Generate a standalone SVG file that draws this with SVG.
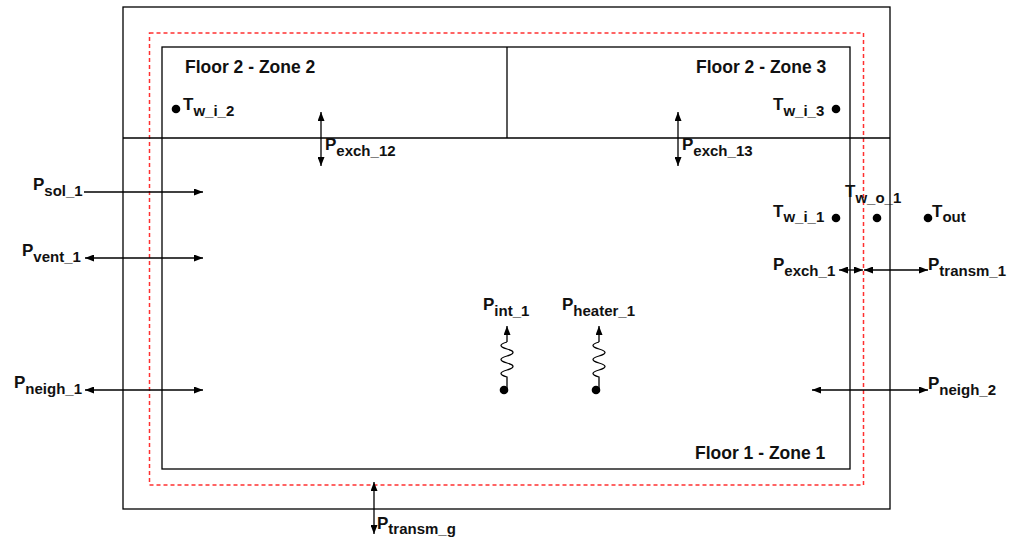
<svg xmlns="http://www.w3.org/2000/svg" width="1023" height="541" viewBox="0 0 1023 541">
<style>
.ln{stroke:#000;stroke-width:1.3;fill:none}
.red{stroke:#ff3030;stroke-width:1.5;stroke-dasharray:4 3;fill:none}
.ar{stroke:#000;stroke-width:1.3;fill:none;marker-end:url(#ah)}
.ar2{stroke:#000;stroke-width:1.3;fill:none;marker-end:url(#ah);marker-start:url(#ah)}
text{font-family:"Liberation Sans",Arial,sans-serif;font-weight:bold;fill:#111}
.m{font-size:17px}
.s{font-size:15px}
.z{font-size:17.5px}
.dot{fill:#000}
</style>
<defs>
<marker id="ah" markerUnits="userSpaceOnUse" markerWidth="9" markerHeight="7" refX="9" refY="3.5" orient="auto-start-reverse">
<path d="M0,0 L9,3.5 L0,7 z" fill="#000"/>
</marker>
</defs>
<rect width="1023" height="541" fill="#fff"/>
<g id="envelope">
<rect class="ln" x="123" y="7" width="767" height="502"/>
<rect class="red" x="149.5" y="33" width="714" height="452"/>
<line class="ln" x1="123" y1="138" x2="890" y2="138"/>
</g>
<g id="zone1">
<rect class="ln" x="162" y="47" width="688" height="422"/>
<text class="z" x="695" y="459">Floor 1 - Zone 1</text>
</g>
<g id="zone2">
<text class="z" x="185" y="73">Floor 2 - Zone 2</text>
<circle class="dot" cx="176" cy="109" r="4.3"/>
<text class="m" x="183" y="110">T<tspan class="s" dy="6">w_i_2</tspan></text>
</g>
<g id="zone3">
<line class="ln" x1="507" y1="47" x2="507" y2="138"/>
<text class="z" x="696" y="73">Floor 2 - Zone 3</text>
<circle class="dot" cx="836" cy="109" r="4.3"/>
<text class="m" x="773" y="110">T<tspan class="s" dy="6">w_i_3</tspan></text>
</g>
<g id="temps">
<circle class="dot" cx="836" cy="218" r="4.3"/>
<text class="m" x="773" y="217">T<tspan class="s" dy="5">w_i_1</tspan></text>
<circle class="dot" cx="877" cy="218" r="4.3"/>
<text class="m" x="845" y="197">T<tspan class="s" dy="6">w_o_1</tspan></text>
<circle class="dot" cx="928" cy="218" r="4.3"/>
<text class="m" x="932" y="217">T<tspan class="s" dy="5">out</tspan></text>
</g>
<g id="labels">
<text class="m" x="33" y="190">P<tspan class="s" dy="6">sol_1</tspan></text>
<text class="m" x="22" y="256">P<tspan class="s" dy="6">vent_1</tspan></text>
<text class="m" x="14" y="388">P<tspan class="s" dy="6">neigh_1</tspan></text>
<text class="m" x="325" y="150">P<tspan class="s" dy="6">exch_12</tspan></text>
<text class="m" x="682" y="150">P<tspan class="s" dy="6">exch_13</tspan></text>
<text class="m" x="773" y="270">P<tspan class="s" dy="6">exch_1</tspan></text>
<text class="m" x="928" y="270">P<tspan class="s" dy="6">transm_1</tspan></text>
<text class="m" x="483" y="310">P<tspan class="s" dy="6">int_1</tspan></text>
<text class="m" x="562" y="310">P<tspan class="s" dy="6">heater_1</tspan></text>
<text class="m" x="928" y="389">P<tspan class="s" dy="6">neigh_2</tspan></text>
<text class="m" x="377" y="529">P<tspan class="s" dy="5">transm_g</tspan></text>
</g>
<g id="connectors">
<line class="ar" x1="84" y1="192" x2="203" y2="192"/>
<line class="ar2" x1="85" y1="258" x2="203" y2="258"/>
<line class="ar2" x1="85" y1="390" x2="203" y2="390"/>
<line class="ar2" x1="321" y1="112" x2="321" y2="166"/>
<line class="ar2" x1="678" y1="112" x2="678" y2="166"/>
<line class="ar2" x1="839" y1="270" x2="863" y2="270"/>
<line class="ar2" x1="864" y1="270" x2="928" y2="270"/>
<line class="ar2" x1="812" y1="390" x2="928" y2="390"/>
<line class="ar2" x1="374" y1="482" x2="374" y2="534"/>
<path class="ln" d="M507,342 q-12,3.5 0,7 t0,7 t0,7 t0,7 t0,7 L507,389"/>
<line class="ar" x1="507" y1="342" x2="507" y2="326"/>
<circle class="dot" cx="504" cy="390" r="4.3"/>
<path class="ln" d="M599,342 q-12,3.5 0,7 t0,7 t0,7 t0,7 t0,7 L599,389"/>
<line class="ar" x1="599" y1="342" x2="599" y2="326"/>
<circle class="dot" cx="596" cy="390" r="4.3"/>
</g>
</svg>
